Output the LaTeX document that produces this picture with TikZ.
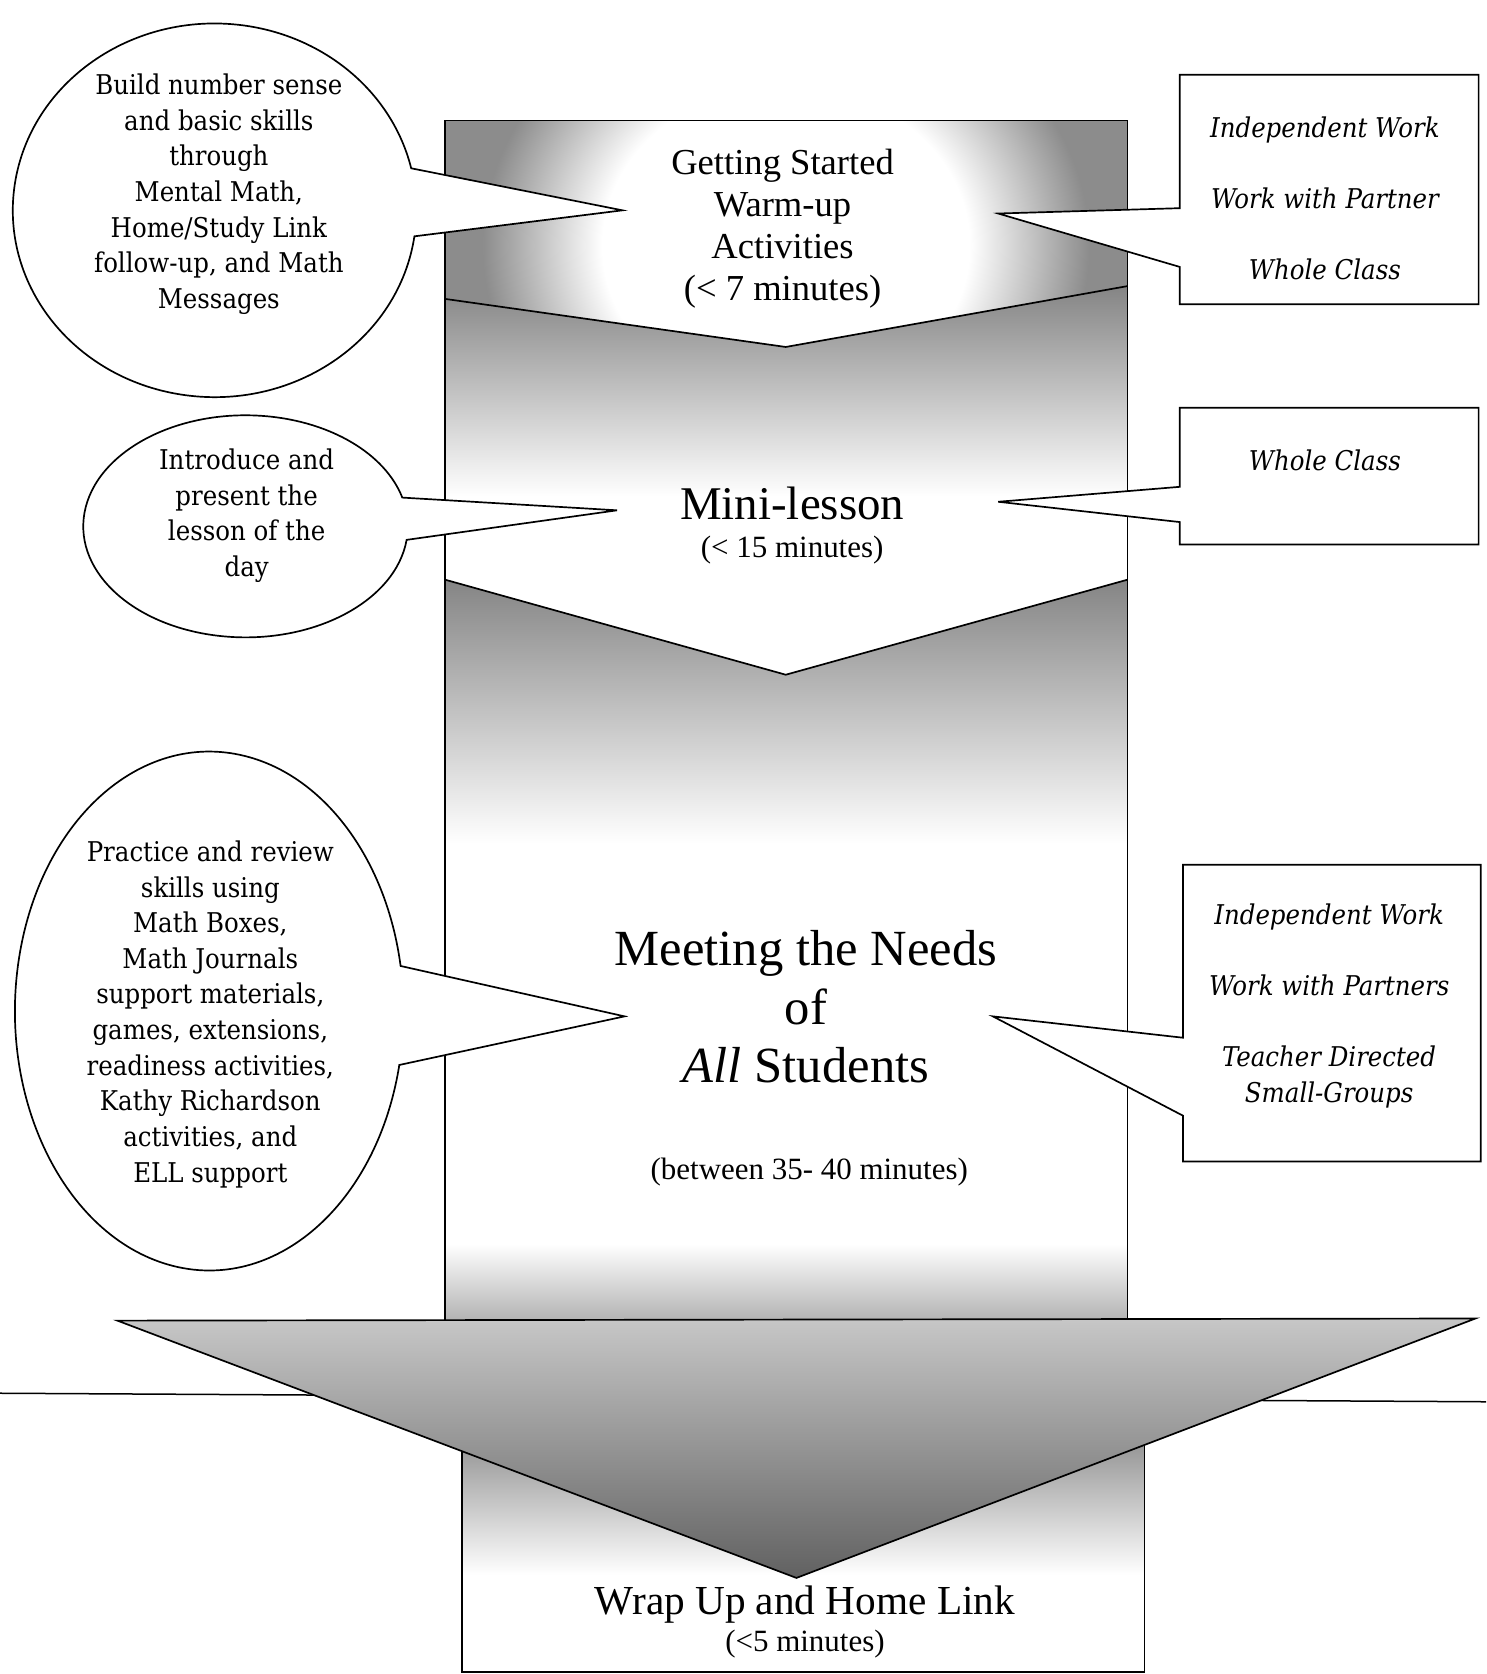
\documentclass[tikz,border=0pt]{standalone}
\usepackage{fontspec}
\setmainfont{Liberation Serif}
\newfontfamily\bubblefont{DejaVu Serif Condensed}
\usetikzlibrary{positioning}

% white centre, grey rim (top band)
\pgfdeclareradialshading{warmfade}{\pgfpoint{0bp}{0bp}}{color(0bp)=(white); color(10bp)=(white); color(16.5bp)=(black!45); color(50bp)=(black!45)}

\begin{document}
\begin{tikzpicture}[
    x=0.02cm, y=-0.02cm,
    outline/.style={line width=0.9pt},
    callout/.style={draw, fill=white, line width=0.9pt},
    bubbletext/.style={font=\bubblefont\fontsize{14.5}{19}\selectfont, align=center},
    boxtext/.style={font=\bubblefont\itshape\fontsize{14.5}{19}\selectfont, align=center},
    phase/.style={align=center},
    timetext/.style={font=\fontsize{16.5}{19}\selectfont}
]
\useasboundingbox (0,0) rectangle (1392,1568);

% scan line across the page
\draw[line width=0.8pt] (0,1305) -- (1392,1313);

% Shaded bands
\begin{scope}
  \clip (417,113) -- (1056,113) -- (1056,268) -- (736,325) -- (417,280) -- cycle;
  \shade[shading=warmfade] (306,-145) rectangle (1166,605);
\end{scope}
\shade[top color=black!48, middle color=black!35, bottom color=white]
  (417,280) -- (736,325) -- (1056,268) -- (1056,465) -- (417,465) -- cycle;
\shade[top color=black!48, middle color=black!35, bottom color=white]
  (417,543) -- (736,632) -- (1056,543) -- (1056,790) -- (417,790) -- cycle;
\shade[top color=white, bottom color=black!30] (417,1165) rectangle (1056,1237);
\shade[top color=black!45, bottom color=white] (433,1340) rectangle (1072,1475);

% Column and chevrons
\draw[outline] (417,1237) -- (417,113) -- (1056,113) -- (1056,1235);
\draw[outline] (417,280) -- (736,325) -- (1056,268);
\draw[outline] (417,543) -- (736,632) -- (1056,543);
\draw[outline] (433,1359) -- (433,1566) -- (1072,1566) -- (1072,1353);

% Big arrow head
\shade[top color=black!22, bottom color=black!62] (110,1237) -- (1382,1235) -- (746,1478) -- cycle;
\draw[outline] (110,1237) -- (1382,1235) -- (746,1478) -- cycle;

% Pointer tips
\coordinate (warmtipL) at (583,197);
\coordinate (warmtipR) at (935,200);
\coordinate (minitipL) at (578,478);
\coordinate (minitipR) at (935,470);
\coordinate (needtipL) at (585,952);
\coordinate (needtipR) at (930,952);

% Left bubbles
\draw[callout] (201,197) ++(8:189 and 175) arc[start angle=8, end angle=347, x radius=189, y radius=175] -- (warmtipL) -- cycle;
\draw[callout] (230,493) ++(7:152 and 104) arc[start angle=7, end angle=345, x radius=152, y radius=104] -- (minitipL) -- cycle;
\draw[callout] (196,947) ++(12:182 and 243) arc[start angle=12, end angle=350, x radius=182, y radius=243] -- (needtipL) -- cycle;

% Right boxes
\draw[callout] (1105,195) -- (1105,70) -- (1385,70) -- (1385,285) -- (1105,285) -- (1105,250) -- (warmtipR) -- cycle;
\draw[callout] (1105,456) -- (1105,382) -- (1385,382) -- (1385,510) -- (1105,510) -- (1105,489) -- (minitipR) -- cycle;
\draw[callout] (1108,972) -- (1108,810) -- (1387,810) -- (1387,1088) -- (1108,1088) -- (1108,1045) -- (needtipR) -- cycle;

% Bubble texts
\node[bubbletext] (buildtxt) at (205,182) {Build number sense\\and basic skills\\through\\Mental Math,\\Home/Study Link\\follow-up, and Math\\Messages};
\node[bubbletext] (introtxt) at (231,483) {Introduce and\\present the\\lesson of the\\day};
\node[bubbletext] (practicetxt) at (197,950) {Practice and review\\skills using\\Math Boxes,\\Math Journals\\support materials,\\games, extensions,\\readiness activities,\\Kathy Richardson\\activities, and\\ELL support};

% Box texts
\node[boxtext] (groupsA) at (1241,186) {Independent Work\\[19pt]Work with Partner\\[19pt]Whole Class};
\node[boxtext] (groupsB) at (1241,431) {Whole Class};
\node[boxtext] (groupsC) at (1245,942) {Independent Work\\[19pt]Work with Partners\\[19pt]Teacher Directed\\Small-Groups};

% Phases
\node[phase, font=\fontsize{19.5}{22.4}\selectfont] (warmup) at (733,214) {Getting Started\\Warm-up\\Activities\\(< 7 minutes)};
\node[phase, font=\fontsize{25}{28}\selectfont] (mini) at (742,472) {Mini-lesson};
\node[timetext] (minitime) at (742,515) {(< 15 minutes)};
\node[phase, font=\fontsize{27}{31.3}\selectfont] (needs) at (755,943) {Meeting the Needs\\of\\\textit{All} Students};
\node[timetext] (needstime) at (758,1098) {(between 35- 40 minutes)};
\node[phase, font=\fontsize{22}{25}\selectfont] (wrapup) at (754,1503) {Wrap Up and Home Link};
\node[timetext] (wraptime) at (754,1540) {(<5 minutes)};

\end{tikzpicture}
\end{document}
